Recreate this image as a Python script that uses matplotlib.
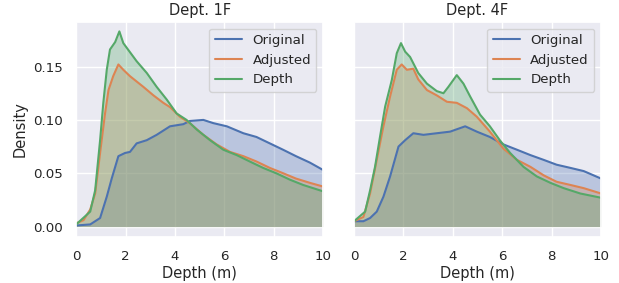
import numpy as np
import matplotlib
matplotlib.use("Agg")
import matplotlib.pyplot as plt
import seaborn as sns

sns.set_theme(font_scale=0.88)

# Dept. 1F
x1_orig = [0, 0.57, 0.97, 1.24, 1.44, 1.71, 1.98, 2.18, 2.45, 2.86, 3.26, 3.8, 4.34, 4.6, 5.15, 5.55, 6.1, 6.77, 7.3, 7.84, 8.38, 8.9, 9.46, 10]
y1_orig = [0.001, 0.002, 0.008, 0.028, 0.045, 0.066, 0.069, 0.070, 0.078, 0.081, 0.086, 0.094, 0.096, 0.099, 0.100, 0.097, 0.094, 0.0875, 0.084, 0.078, 0.072, 0.066, 0.060, 0.053]
x1_adj = [0, 0.3, 0.57, 0.77, 0.97, 1.17, 1.31, 1.5, 1.71, 1.91, 2.18, 2.45, 2.72, 3.13, 3.53, 3.8, 4.2, 4.6, 5.15, 5.69, 6.23, 6.77, 7.3, 7.84, 8.38, 8.9, 9.46, 10]
y1_adj = [0.003, 0.006, 0.016, 0.031, 0.069, 0.106, 0.128, 0.141, 0.152, 0.147, 0.141, 0.136, 0.131, 0.123, 0.116, 0.112, 0.103, 0.097, 0.086, 0.077, 0.070, 0.066, 0.061, 0.055, 0.050, 0.045, 0.041, 0.0375]
x1_dep = [0, 0.57, 0.77, 0.97, 1.1, 1.24, 1.37, 1.58, 1.75, 1.91, 2.1, 2.45, 2.86, 3.26, 3.67, 4.07, 4.47, 4.88, 5.42, 5.96, 6.5, 7.03, 7.57, 8.1, 8.65, 9.19, 10]
y1_dep = [0.002, 0.014, 0.034, 0.081, 0.116, 0.147, 0.166, 0.173, 0.183, 0.172, 0.166, 0.155, 0.144, 0.131, 0.119, 0.106, 0.100, 0.091, 0.081, 0.072, 0.067, 0.061, 0.055, 0.050, 0.044, 0.039, 0.033]

# Dept. 4F
x4_orig = [0, 0.38, 0.65, 0.92, 1.19, 1.46, 1.8, 2.07, 2.4, 2.81, 3.35, 3.89, 4.5, 4.97, 5.5, 6.05, 6.6, 7.14, 7.68, 8.2, 8.76, 9.3, 10]
y4_orig = [0.005, 0.005, 0.008, 0.014, 0.028, 0.047, 0.075, 0.081, 0.0875, 0.086, 0.0875, 0.089, 0.094, 0.089, 0.084, 0.077, 0.072, 0.067, 0.0625, 0.058, 0.055, 0.052, 0.045]
x4_adj = [0, 0.38, 0.65, 0.92, 1.19, 1.46, 1.73, 1.93, 2.14, 2.4, 2.6, 2.95, 3.35, 3.76, 4.16, 4.57, 4.97, 5.5, 6.05, 6.6, 7.14, 7.68, 8.2, 8.76, 9.3, 10]
y4_adj = [0.005, 0.009, 0.031, 0.0625, 0.094, 0.122, 0.147, 0.152, 0.147, 0.148, 0.138, 0.128, 0.123, 0.117, 0.116, 0.111, 0.103, 0.089, 0.073, 0.0625, 0.056, 0.048, 0.042, 0.039, 0.036, 0.031]
x4_dep = [0, 0.45, 0.65, 0.85, 1.05, 1.26, 1.53, 1.73, 1.9, 2.07, 2.27, 2.6, 2.95, 3.35, 3.62, 3.82, 4.16, 4.43, 4.7, 5.1, 5.5, 5.9, 6.32, 6.86, 7.4, 7.95, 8.49, 9.16, 10]
y4_dep = [0.005, 0.014, 0.034, 0.056, 0.084, 0.1125, 0.1375, 0.1625, 0.172, 0.164, 0.159, 0.144, 0.134, 0.127, 0.125, 0.131, 0.142, 0.134, 0.122, 0.105, 0.094, 0.081, 0.069, 0.056, 0.047, 0.041, 0.036, 0.031, 0.027]

names = ["Original", "Adjusted", "Depth"]
colors = sns.color_palette()[:3]

panels = [
    ("Dept. 1F", [(x1_orig, y1_orig), (x1_adj, y1_adj), (x1_dep, y1_dep)]),
    ("Dept. 4F", [(x4_orig, y4_orig), (x4_adj, y4_adj), (x4_dep, y4_dep)]),
]

fig, axes = plt.subplots(1, 2, figsize=(6.19, 2.83), dpi=100, sharey=True)
plt.subplots_adjust(left=0.123, right=0.971, bottom=0.164, top=0.923, wspace=0.125)

for ax, (title, series) in zip(axes, panels):
    for (x, y), name, c in zip(series, names, colors):
        ax.plot(x, y, color=c, lw=1.5, label=name)
        ax.fill_between(x, 0, y, color=c, alpha=0.3, lw=0)
    ax.set_title(title, pad=5)
    ax.set_xlabel("Depth (m)", labelpad=2)
    ax.set_xlim(0, 10)
    ax.legend(loc="upper right")

axes[0].set_ylim(-0.0094, 0.192)
axes[0].set_yticks([0.0, 0.05, 0.10, 0.15])
axes[0].set_ylabel("Density")

plt.savefig("out.png")
